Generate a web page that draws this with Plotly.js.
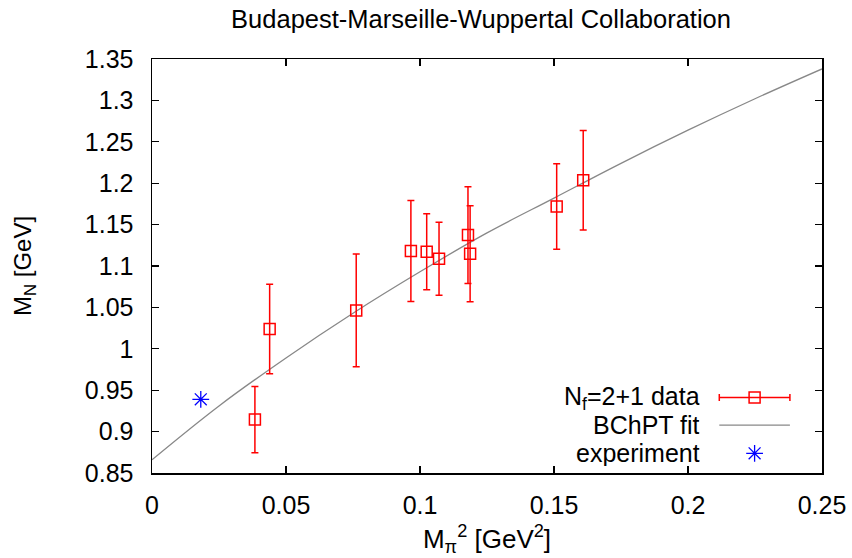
<!DOCTYPE html>
<html>
<head>
<meta charset="utf-8">
<script src="https://cdn.plot.ly/plotly-3.0.1.min.js"></script>
<style>html,body{margin:0;padding:0;background:#fff;}#chart{width:852px;height:558px;}</style>
</head>
<body>
<div id="chart"></div>
<script>
// Lattice data: M_pi^2 [GeV^2], M_N [GeV], error
const mpi2 = [0.0384, 0.0439, 0.0762, 0.0966, 0.1025, 0.1071, 0.1179, 0.1187, 0.1510, 0.1609];
const mN   = [0.9145, 1.0240, 1.0464, 1.1180, 1.1172, 1.1087, 1.1373, 1.1148, 1.1719, 1.2036];
const mNerr= [0.0400, 0.0540, 0.0680, 0.0610, 0.0460, 0.0440, 0.0585, 0.0580, 0.0517, 0.0600];

// BChPT fit curve
const fitX = [0, 0.025, 0.05, 0.075, 0.1, 0.125, 0.15, 0.175, 0.2, 0.225, 0.25];
const fitY = [0.866, 0.931, 0.989, 1.043, 1.093, 1.140, 1.182, 1.224, 1.264, 1.302, 1.338];

// Experimental point
const expX = [0.0182];
const expY = [0.939];

const xTicks = [0, 0.05, 0.1, 0.15, 0.2, 0.25];
const yTicks = [0.85, 0.9, 0.95, 1, 1.05, 1.1, 1.15, 1.2, 1.25, 1.3, 1.35];

const legendLabels = ['N<sub>f</sub>=2+1 data', 'BChPT fit', 'experiment'];

// layout of custom legend (fractions of the plot area)
const LG = {textX: 0.8204, keyX: 0.8994, keyHalf: 0.0527, rows: [0.1821, 0.1158, 0.0475]};

const FONT = 'Liberation Sans, Arial, Helvetica, sans-serif';
const RED = 'rgb(255,0,0)';
const BLUE = 'rgb(0,0,255)';
const GREY = 'rgb(136,136,136)';

const traces = [
  {x: fitX, y: fitY, mode: 'lines', line: {color: GREY, width: 1.3, shape: 'spline'}, hoverinfo: 'skip'},
  {x: mpi2, y: mN, mode: 'markers', type: 'scatter',
   marker: {symbol: 'square-open', size: 11, color: RED, line: {width: 1.5, color: RED}},
   error_y: {type: 'data', array: mNerr, visible: true, color: RED, thickness: 1.5, width: 3.5}},
  {x: expX, y: expY, mode: 'markers',
   marker: {symbol: 'asterisk-open', size: 14, color: BLUE, line: {width: 1.3, color: BLUE}}},
  // legend keys on overlay axes
  {x: [LG.keyX], y: [LG.rows[0]], xaxis: 'x2', yaxis: 'y2', mode: 'markers',
   marker: {symbol: 'square-open', size: 11, color: RED, line: {width: 1.5, color: RED}},
   error_x: {type: 'data', array: [LG.keyHalf], visible: true, color: RED, thickness: 1.5, width: 3.5}},
  {x: [LG.keyX - LG.keyHalf, LG.keyX + LG.keyHalf], y: [LG.rows[1], LG.rows[1]], xaxis: 'x2', yaxis: 'y2',
   mode: 'lines', line: {color: GREY, width: 1.3}},
  {x: [LG.keyX], y: [LG.rows[2]], xaxis: 'x2', yaxis: 'y2', mode: 'markers',
   marker: {symbol: 'asterisk-open', size: 14, color: BLUE, line: {width: 1.3, color: BLUE}}}
];

const axisCommon = {
  showgrid: false, zeroline: false, showline: true, linecolor: 'black', linewidth: 1.5,
  mirror: 'ticks', ticks: 'inside', ticklen: 7, tickwidth: 1.3, tickcolor: 'black',
  tickfont: {family: FONT, size: 25, color: 'black'}
};

const layout = {
  width: 852, height: 558,
  margin: {l: 151.5, r: 29.5, t: 59, b: 84.5},
  paper_bgcolor: 'white', plot_bgcolor: 'white',
  showlegend: false,
  font: {family: FONT, color: 'black'},
  title: {text: 'Budapest-Marseille-Wuppertal Collaboration', font: {family: FONT, size: 25.5, color: 'black'},
          x: 0.5646, xref: 'container', xanchor: 'center', y: 0.966, yref: 'container', yanchor: 'middle'},
  xaxis: Object.assign({}, axisCommon, {range: [0, 0.25], tickvals: xTicks, ticktext: xTicks.map(String),
          ticklabelstandoff: 9,
          title: {text: 'M<sub>π</sub><sup>2</sup> [GeV<sup>2</sup>]', font: {family: FONT, size: 26, color: 'black'}, standoff: 12}}),
  yaxis: Object.assign({}, axisCommon, {range: [0.85, 1.35], tickvals: yTicks, ticktext: yTicks.map(String),
          ticklabelstandoff: 12,
          title: {text: 'M<sub>N</sub> [GeV]', font: {family: FONT, size: 24, color: 'black'}, standoff: 46}}),
  xaxis2: {overlaying: 'x', anchor: 'y2', range: [0, 1], visible: false, fixedrange: true},
  yaxis2: {overlaying: 'y', anchor: 'x2', range: [0, 1], visible: false, fixedrange: true},
  annotations: legendLabels.map((t, i) => ({
    text: t, xref: 'x2', yref: 'y2', x: LG.textX, y: LG.rows[i], xanchor: 'right', yanchor: 'middle',
    height: 26, showarrow: false, font: {family: FONT, size: 25, color: 'black'}
  }))
};

Plotly.newPlot('chart', traces, layout, {displayModeBar: false, staticPlot: true});
</script>
</body>
</html>
